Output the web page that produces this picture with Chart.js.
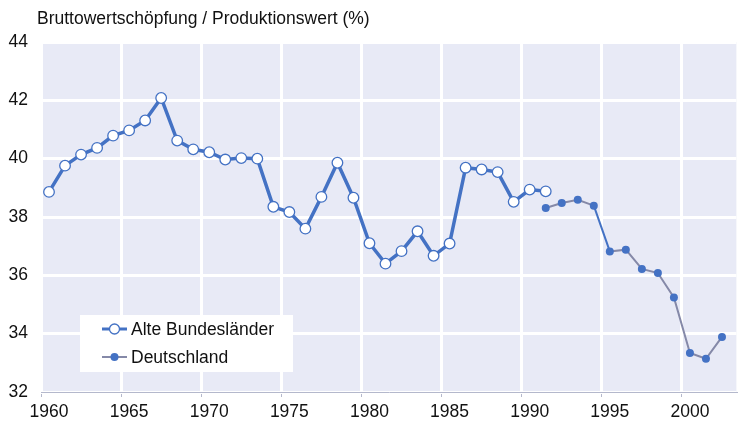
<!DOCTYPE html>
<html>
<head>
<meta charset="utf-8">
<script src="https://cdn.jsdelivr.net/npm/chart.js@4/dist/chart.umd.min.js"></script>
<style>
  html, body { margin: 0; padding: 0; background: #ffffff; }
  #wrap { width: 743px; height: 428px; position: relative; }
</style>
</head>
<body>
<div id="wrap"><canvas id="c" width="743" height="428"></canvas></div>
<script>
// ---- data ----
const titleText = "Bruttowertschöpfung / Produktionswert (%)";
const seriesNames = ["Alte Bundesländer", "Deutschland"];

const yearsAlt = [1960,1961,1962,1963,1964,1965,1966,1967,1968,1969,1970,1971,1972,1973,1974,1975,
                  1976,1977,1978,1979,1980,1981,1982,1983,1984,1985,1986,1987,1988,1989,1990,1991];
const valuesAlt = [38.86,39.76,40.14,40.37,40.79,40.97,41.31,42.08,40.62,40.32,40.22,39.97,40.02,40.00,38.35,38.17,
                   37.60,38.69,39.86,38.66,37.10,36.40,36.83,37.51,36.67,37.09,39.69,39.63,39.54,38.52,38.94,38.88];

const yearsDe = [1991,1992,1993,1994,1995,1996,1997,1998,1999,2000,2001,2002];
const valuesDe = [38.31,38.48,38.59,38.39,36.82,36.88,36.22,36.08,35.24,33.34,33.14,33.89];

const xTickYears = [1960,1965,1970,1975,1980,1985,1990,1995,2000];
const yTickValues = [32,34,36,38,40,42,44];

// ---- styling ----
const BLUE = '#4472C4';
const GREY = '#8589A8';
const BG = '#E8EAF6';
const AXIS = '#B4B8CC';
const TEXT = '#111111';
const FONT = '"Liberation Sans", Arial, Helvetica, sans-serif';
const FS = 17.5;

// points plotted at mid-year
const toPoints = (xs, ys) => xs.map((x, i) => ({ x: x + 0.5, y: ys[i] }));

const bgPlugin = {
  id: 'bg',
  beforeDraw(chart) {
    const { ctx, chartArea: a } = chart;
    ctx.save();
    ctx.fillStyle = BG;
    ctx.fillRect(a.left, a.top, a.right - a.left, a.bottom - a.top);
    ctx.restore();
  }
};

const overlayPlugin = {
  id: 'overlay',
  afterDraw(chart) {
    const ctx = chart.ctx;
    ctx.save();
    // title
    ctx.font = FS + 'px ' + FONT;
    ctx.fillStyle = TEXT;
    ctx.textBaseline = 'middle';
    ctx.textAlign = 'left';
    ctx.fillText(titleText, 37, 19);
    // legend
    ctx.fillStyle = '#ffffff';
    ctx.fillRect(80, 315, 213, 57);
    const rows = [
      { y: 329, color: BLUE, lw: 3, open: true, r: 5 },
      { y: 357, color: GREY, lw: 2, open: false, r: 4 }
    ];
    rows.forEach((row, i) => {
      ctx.strokeStyle = row.color;
      ctx.lineWidth = row.lw;
      ctx.beginPath();
      ctx.moveTo(102, row.y);
      ctx.lineTo(127, row.y);
      ctx.stroke();
      ctx.beginPath();
      ctx.arc(114.5, row.y, row.r, 0, Math.PI * 2);
      if (row.open) {
        ctx.fillStyle = '#ffffff';
        ctx.fill();
        ctx.lineWidth = 1.3;
        ctx.strokeStyle = BLUE;
        ctx.stroke();
      } else {
        ctx.fillStyle = BLUE;
        ctx.fill();
      }
      ctx.fillStyle = TEXT;
      ctx.font = FS + 'px ' + FONT;
      ctx.textBaseline = 'middle';
      ctx.fillText(seriesNames[i], 131, row.y + 1);
    });
    ctx.restore();
  }
};

new Chart(document.getElementById('c'), {
  type: 'line',
  data: {
    datasets: [
      {
        label: seriesNames[0],
        data: toPoints(yearsAlt, valuesAlt),
        borderColor: BLUE,
        borderWidth: 3.5,
        pointRadius: 5.3,
        pointBorderWidth: 1.3,
        pointBackgroundColor: '#ffffff',
        pointBorderColor: BLUE,
        tension: 0,
        order: 1
      },
      {
        label: seriesNames[1],
        data: toPoints(yearsDe, valuesDe),
        borderColor: GREY,
        borderWidth: 2,
        pointRadius: 4,
        pointBorderWidth: 0,
        pointBackgroundColor: BLUE,
        pointBorderColor: BLUE,
        tension: 0,
        order: 2,
        segment: {
          borderColor: ctx => (ctx.p0DataIndex === 3 ? BLUE : GREY)
        }
      }
    ]
  },
  options: {
    responsive: false,
    animation: false,
    devicePixelRatio: 1,
    layout: { padding: { top: 42, right: 0, left: 0, bottom: 0 } },
    plugins: {
      legend: { display: false },
      tooltip: { enabled: false },
      title: { display: false }
    },
    scales: {
      x: {
        type: 'linear',
        min: 1960,
        max: 2003.4,
        afterFit(scale) { scale.height = 36; },
        afterBuildTicks(scale) { scale.ticks = xTickYears.map(v => ({ value: v })); },
        ticks: {
          callback: v => String(v),
          font: { family: FONT, size: FS },
          color: TEXT,
          padding: 5,
          labelOffset: 8,
          maxRotation: 0,
          autoSkip: false
        },
        grid: {
          color: '#ffffff',
          lineWidth: 3,
          drawTicks: true,
          tickLength: 5,
          tickColor: AXIS,
          tickWidth: 1
        },
        border: { display: true, color: AXIS, width: 1 }
      },
      y: {
        min: 32,
        max: 44,
        afterFit(scale) { scale.width = 41; },
        afterBuildTicks(scale) { scale.ticks = yTickValues.map(v => ({ value: v })); },
        ticks: {
          font: { family: FONT, size: FS },
          color: TEXT,
          padding: 13
        },
        grid: {
          color: '#ffffff',
          lineWidth: 3,
          drawTicks: false
        },
        border: { display: false }
      }
    }
  },
  plugins: [bgPlugin, overlayPlugin]
});
</script>
</body>
</html>
